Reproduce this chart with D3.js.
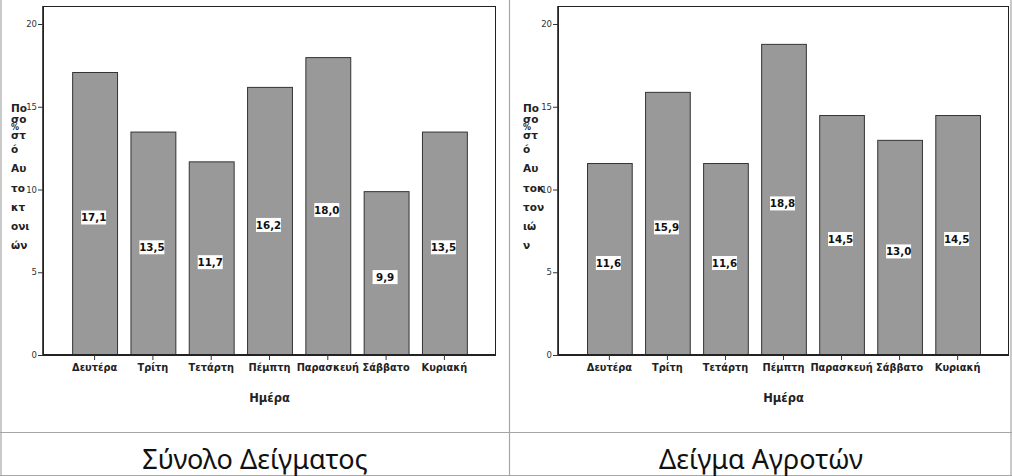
<!DOCTYPE html>
<html><head><meta charset="utf-8">
<script src="https://cdn.jsdelivr.net/npm/d3@7"></script>
<style>body{margin:0;background:#fff}svg{display:block}</style>
</head><body>
<script>
const days = ["Δευτέρα","Τρίτη","Τετάρτη","Πέμπτη","Παρασκευή","Σάββατο","Κυριακή"];
const totalValues = [17.1, 13.5, 11.7, 16.2, 18.0, 9.9, 13.5];
const farmerValues = [11.6, 15.9, 11.6, 18.8, 14.5, 13.0, 14.5];
const yTicks = [0, 5, 10, 15, 20];
const xTitle = "Ημέρα";
const leftYLabel = ["Πο","σο","%","στ","ό","Αυ","το","κτ","ονι","ών"];
const rightYLabel = ["Πο","σο","%","στ","ό","Αυ","τοκ","τον","ιώ","ν"];
const panelTitles = ["Σύνολο Δείγματος","Δείγμα Αγροτών"];

const W = 1012, H = 476;
const svg = d3.select("body").append("svg").attr("width", W).attr("height", H);

// table grid lines
const grid = svg.append("g").attr("stroke", "#a6a6a6").attr("stroke-width", 1.2);
grid.append("line").attr("x1", 1).attr("x2", 1).attr("y1", 0).attr("y2", H);
grid.append("line").attr("x1", 509.5).attr("x2", 509.5).attr("y1", 0).attr("y2", H);
grid.append("line").attr("x1", 1011).attr("x2", 1011).attr("y1", 0).attr("y2", H);
grid.append("line").attr("x1", 0).attr("x2", W).attr("y1", 432.5).attr("y2", 432.5);
grid.append("line").attr("x1", 0).attr("x2", W).attr("y1", 475.5).attr("y2", 475.5);

const labelFont = "'DejaVu Sans', 'Liberation Sans', sans-serif";

function drawPanel(values, yLabel, left, right, labelX, title, titleX) {
  const top = 6, bottom = 355;
  const x = d3.scaleBand().domain(days).range([left, right]).paddingInner(0.23).paddingOuter(0.5);
  const y = d3.scaleLinear().domain([0, 20]).range([bottom, 24]);
  const g = svg.append("g");

  // plot frame
  g.append("rect").attr("x", left + 0.5).attr("y", top + 0.5)
    .attr("width", right - left - 1).attr("height", bottom - top)
    .attr("fill", "none").attr("stroke", "#222").attr("stroke-width", 1);

  // bars
  g.selectAll("rect.bar").data(values).join("rect").attr("class", "bar")
    .attr("x", (d, i) => x(days[i]) + 0.5)
    .attr("y", d => y(d) + 0.5)
    .attr("width", x.bandwidth())
    .attr("height", d => bottom - y(d))
    .attr("fill", "#999999").attr("stroke", "#333").attr("stroke-width", 1);

  // axes
  const ya = d3.axisLeft(y).tickValues(yTicks).tickSize(5).tickPadding(1).tickFormat(d3.format("d"));
  const yg = g.append("g").attr("transform", `translate(${left},0)`).call(ya);
  yg.select(".domain").attr("stroke", "#222").attr("stroke-width", 1.6).attr("d", `M0,${top}V${bottom}`);
  yg.selectAll(".tick line").attr("stroke", "#333");
  yg.selectAll(".tick text").attr("font-family", labelFont).attr("font-size", 8.5).attr("fill", "#333");

  const xa = d3.axisBottom(x).tickSize(5).tickPadding(4);
  const xg = g.append("g").attr("transform", `translate(0,${bottom})`).call(xa);
  xg.select(".domain").attr("stroke", "#222").attr("stroke-width", 1.8).attr("d", `M${left},0H${right}`);
  xg.selectAll(".tick line").attr("stroke", "#333");
  xg.selectAll(".tick text").attr("font-family", labelFont).attr("font-size", 9.8)
    .attr("font-weight", "bold").attr("fill", "#222");

  // x title
  g.append("text").attr("x", (left + right) / 2).attr("y", 402).attr("text-anchor", "middle")
    .attr("font-family", labelFont).attr("font-size", 11.5).attr("font-weight", "bold").attr("fill", "#222")
    .text(xTitle);

  // value labels
  const lab = g.selectAll("g.val").data(values).join("g").attr("class", "val")
    .attr("transform", (d, i) => `translate(${x(days[i]) + x.bandwidth() / 2 - 1},${(y(d) + bottom) / 2 + 4})`);
  lab.append("rect").attr("x", -12.5).attr("y", -7).attr("width", 25).attr("height", 14).attr("fill", "#fff");
  lab.append("text").attr("text-anchor", "middle").attr("dy", "0.36em")
    .attr("font-family", labelFont).attr("font-size", 10.3).attr("font-weight", "bold").attr("fill", "#111")
    .text(d => d3.format(".1f")(d).replace(".", ","));

  // y label (stacked)
  const ys = [108, 119, 127, 135, 149, 168, 188, 207, 226, 245];
  yLabel.forEach((t, i) => {
    g.append("text").attr("x", labelX).attr("y", ys[i]).attr("dy", "0.35em")
      .attr("font-family", labelFont).attr("font-size", t === "%" ? 8 : 10.5).attr("font-weight", "bold")
      .attr("fill", "#222").text(t);
  });

  // panel title
  svg.append("text").attr("x", titleX).attr("y", 469).attr("text-anchor", "middle")
    .attr("font-family", "'Noto Sans', 'Open Sans', sans-serif").attr("font-size", 27).attr("fill", "#111")
    .text(title);
}

drawPanel(totalValues, leftYLabel, 43, 496, 11, panelTitles[0], 255);
drawPanel(farmerValues, rightYLabel, 558, 1009, 523, panelTitles[1], 761);
</script>
</body></html>
